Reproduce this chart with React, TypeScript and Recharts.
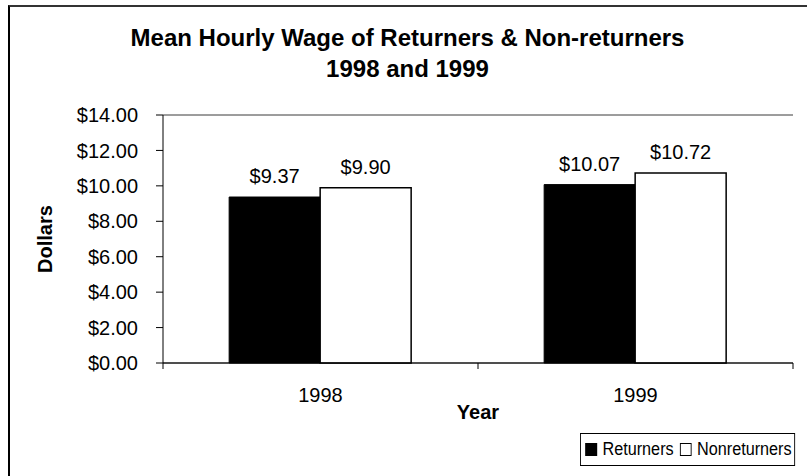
import React from 'react';
import {
  BarChart,
  Bar,
  XAxis,
  YAxis,
  CartesianGrid,
  Legend,
  LabelList,
} from 'recharts';

const YEARS = ['1998', '1999'];
const RETURNERS = [9.37, 10.07];
const NONRETURNERS = [9.9, 10.72];
const Y_TICKS = [0, 2, 4, 6, 8, 10, 12, 14];
const SERIES_ORDER = ['Returners', 'Nonreturners'];

const FONT = '"Liberation Sans", Arial, sans-serif';

const data = YEARS.map((year, i) => ({
  year,
  Returners: RETURNERS[i],
  Nonreturners: NONRETURNERS[i],
}));

const money = (v: number) => `$${Number(v).toFixed(2)}`;

// excel style: ticks sit between the categories, label in the middle
function YearTick(props: any) {
  const { x, y, payload, index, visibleTicksCount } = props;
  const half = payload?.offset ?? 157.5;
  const last = index === visibleTicksCount - 1;
  return (
    <g>
      <line x1={x - half} x2={x - half} y1={y} y2={y + 6} stroke="#000" />
      {last && <line x1={x + half} x2={x + half} y1={y} y2={y + 6} stroke="#000" />}
      <text x={x} y={y + 39} textAnchor="middle" fontSize={20} fill="#000" fontFamily={FONT}>
        {payload.value}
      </text>
    </g>
  );
}

function LegendBox(props: any) {
  const items = [...(props.payload ?? [])].sort(
    (a: any, b: any) => SERIES_ORDER.indexOf(a.value) - SERIES_ORDER.indexOf(b.value)
  );
  return (
    <div
      style={{
        display: 'flex',
        alignItems: 'center',
        border: '1px solid #000',
        background: '#fff',
        height: 31,
        padding: '0 3px 0 5px',
        fontFamily: FONT,
        fontSize: 18,
        color: '#000',
        whiteSpace: 'nowrap',
        transform: 'scaleX(0.9)',
        transformOrigin: 'left top',
      }}
    >
      {items.map((it: any, i: number) => (
        <span key={it.value} style={{ display: 'flex', alignItems: 'center', marginLeft: i ? 7 : 0 }}>
          <span
            style={{
              display: 'inline-block',
              width: 11,
              height: 11,
              border: '1px solid #000',
              background: it.value === 'Returners' ? '#000' : '#fff',
              marginRight: 6,
            }}
          />
          {it.value}
        </span>
      ))}
    </div>
  );
}

export default function App() {
  return (
    <div style={{ position: 'absolute', left: 0, top: 0, width: 807, height: 476, background: '#fff', overflow: 'hidden' }}>
      <div
        style={{
          position: 'absolute',
          left: 8,
          top: 5,
          width: 805,
          height: 475,
          borderTop: '2px solid #333',
          borderLeft: '2px solid #000',
          boxSizing: 'border-box',
        }}
      />
      <div
        style={{
          position: 'absolute',
          left: 8,
          top: 22,
          width: 799,
          textAlign: 'center',
          fontFamily: FONT,
          fontWeight: 'bold',
          fontSize: 24,
          lineHeight: '31px',
          color: '#000',
        }}
      >
        Mean Hourly Wage of Returners &amp; Non-returners
        <br />
        1998 and 1999
      </div>
      <div style={{ position: 'absolute', left: 0, top: 0 }}>
        <BarChart
          width={807}
          height={476}
          data={data}
          margin={{ top: 115, right: 14, left: 0, bottom: 53 }}
          barCategoryGap="21%"
          barGap={0}
        >
          <CartesianGrid vertical={false} stroke="#3a3a3a" strokeDasharray="" />
          <XAxis
            dataKey="year"
            axisLine={{ stroke: '#000' }}
            tickLine={false}
            tickSize={0}
            tickMargin={0}
            height={60}
            tick={<YearTick />}
            interval={0}
            label={{
              value: 'Year',
              position: 'insideBottom',
              offset: 4,
              fontSize: 20,
              fontWeight: 'bold',
              fill: '#000',
              fontFamily: FONT,
            }}
          />
          <YAxis
            yAxisId="left"
            width={163}
            domain={[0, 14]}
            ticks={Y_TICKS}
            tickFormatter={money}
            axisLine={{ stroke: '#000' }}
            tickLine={{ stroke: '#000' }}
            tickSize={7}
            tickMargin={18}
            tick={{ fontSize: 20, fill: '#000', fontFamily: FONT }}
            label={{
              content: (p: any) => {
                const vb = p.viewBox ?? { y: 115, height: 248 };
                const cy = vb.y + vb.height / 2;
                return (
                  <text
                    x={45}
                    y={cy}
                    transform={`rotate(-90 45 ${cy})`}
                    textAnchor="middle"
                    dominantBaseline="central"
                    fontSize={20}
                    fontWeight="bold"
                    fill="#000"
                    fontFamily={FONT}
                  >
                    Dollars
                  </text>
                );
              },
            }}
          />
          <YAxis
            yAxisId="right"
            orientation="right"
            width={0}
            domain={[0, 14]}
            ticks={Y_TICKS}
            tick={false}
            tickLine={false}
            axisLine={{ stroke: '#808080', strokeWidth: 2 }}
          />
          <Legend
            layout="horizontal"
            verticalAlign="middle"
            align="center"
            content={<LegendBox />}
            wrapperStyle={{ left: 580, top: 433, width: 'auto' }}
          />
          <Bar yAxisId="left" dataKey="Returners" fill="#000" stroke="#000" isAnimationActive={false}>
            <LabelList dataKey="Returners" position="top" offset={14} formatter={money} fontSize={20} fill="#000" fontFamily={FONT} />
          </Bar>
          <Bar yAxisId="left" dataKey="Nonreturners" fill="#fff" stroke="#000" strokeWidth={1.5} isAnimationActive={false}>
            <LabelList dataKey="Nonreturners" position="top" offset={14} formatter={money} fontSize={20} fill="#000" fontFamily={FONT} />
          </Bar>
        </BarChart>
      </div>
    </div>
  );
}
